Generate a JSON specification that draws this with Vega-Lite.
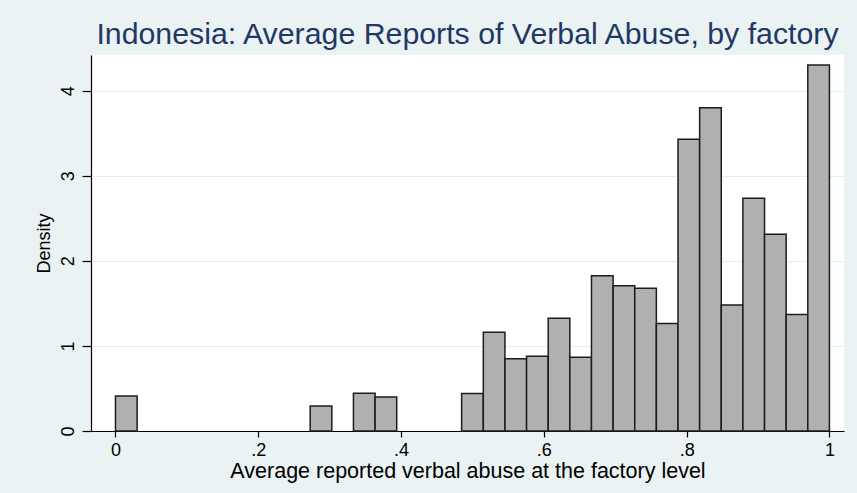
{
  "$schema": "https://vega.github.io/schema/vega-lite/v6.json",
  "width": 753,
  "height": 376,
  "autosize": {"type": "none"},
  "padding": {"left": 91, "top": 55, "right": 13, "bottom": 62},
  "background": "#EAF2F3",
  "config": {
    "view": {"fill": "white", "stroke": null},
    "font": "Liberation Sans"
  },
  "title": {
    "text": "Indonesia: Average Reports of Verbal Abuse, by factory",
    "anchor": "middle",
    "fontSize": 30.3,
    "fontWeight": "normal",
    "color": "#1F3864",
    "font": "Liberation Sans",
    "baseline": "alphabetic",
    "offset": 9,
    "dy": 28
  },
  "data": {
    "values": [
      {"bin_start": 0.0, "bin_end": 0.0303, "density": 0.41},
      {"bin_start": 0.2727, "bin_end": 0.3030, "density": 0.295},
      {"bin_start": 0.3333, "bin_end": 0.3636, "density": 0.443},
      {"bin_start": 0.3636, "bin_end": 0.3939, "density": 0.40},
      {"bin_start": 0.4848, "bin_end": 0.5152, "density": 0.44},
      {"bin_start": 0.5152, "bin_end": 0.5455, "density": 1.16},
      {"bin_start": 0.5455, "bin_end": 0.5758, "density": 0.85},
      {"bin_start": 0.5758, "bin_end": 0.6061, "density": 0.88},
      {"bin_start": 0.6061, "bin_end": 0.6364, "density": 1.325},
      {"bin_start": 0.6364, "bin_end": 0.6667, "density": 0.867},
      {"bin_start": 0.6667, "bin_end": 0.6970, "density": 1.824},
      {"bin_start": 0.6970, "bin_end": 0.7273, "density": 1.706},
      {"bin_start": 0.7273, "bin_end": 0.7576, "density": 1.678},
      {"bin_start": 0.7576, "bin_end": 0.7879, "density": 1.263},
      {"bin_start": 0.7879, "bin_end": 0.8182, "density": 3.431},
      {"bin_start": 0.8182, "bin_end": 0.8485, "density": 3.80},
      {"bin_start": 0.8485, "bin_end": 0.8788, "density": 1.482},
      {"bin_start": 0.8788, "bin_end": 0.9091, "density": 2.737},
      {"bin_start": 0.9091, "bin_end": 0.9394, "density": 2.314},
      {"bin_start": 0.9394, "bin_end": 0.9697, "density": 1.369},
      {"bin_start": 0.9697, "bin_end": 1.0, "density": 4.302}
    ]
  },
  "mark": {"type": "bar", "fill": "#B0B0B0", "stroke": "#1C1C1C", "strokeWidth": 1.5},
  "encoding": {
    "x": {
      "field": "bin_start",
      "type": "quantitative",
      "scale": {"domain": [-0.0343, 1.0204], "nice": false, "zero": false},
      "axis": {
        "title": "Average reported verbal abuse at the factory level",
        "values": [0, 0.2, 0.4, 0.6, 0.8, 1],
        "labelExpr": "datum.value == 0 ? '0' : datum.value == 1 ? '1' : replace(format(datum.value, '.1f'), '0.', '.')",
        "grid": false,
        "domainColor": "#000000",
        "domainWidth": 1.2,
        "tickColor": "#000000",
        "tickSize": 6,
        "tickWidth": 1.2,
        "labelFontSize": 18,
        "labelColor": "#000000",
        "labelPadding": 4,
        "labelFlush": false,
        "titleFontSize": 21.5,
        "titleFontWeight": "normal",
        "titleColor": "#000000",
        "titlePadding": 1
      }
    },
    "x2": {"field": "bin_end"},
    "y": {
      "field": "density",
      "type": "quantitative",
      "scale": {"domain": [0, 4.42], "nice": false},
      "axis": {
        "title": "Density",
        "values": [0, 1, 2, 3, 4],
        "grid": true,
        "gridColor": "#E3ECEF",
        "gridWidth": 1,
        "domainColor": "#000000",
        "domainWidth": 1.2,
        "tickColor": "#000000",
        "tickSize": 9,
        "tickWidth": 1.2,
        "labelAngle": -90,
        "labelAlign": "center",
        "labelBaseline": "alphabetic",
        "labelFontSize": 18,
        "labelColor": "#000000",
        "labelPadding": 9,
        "labelFlush": false,
        "titleFontSize": 18,
        "titleFontWeight": "normal",
        "titleColor": "#000000",
        "titleBaseline": "alphabetic",
        "titlePadding": 10
      }
    },
    "y2": {"datum": 0}
  }
}
